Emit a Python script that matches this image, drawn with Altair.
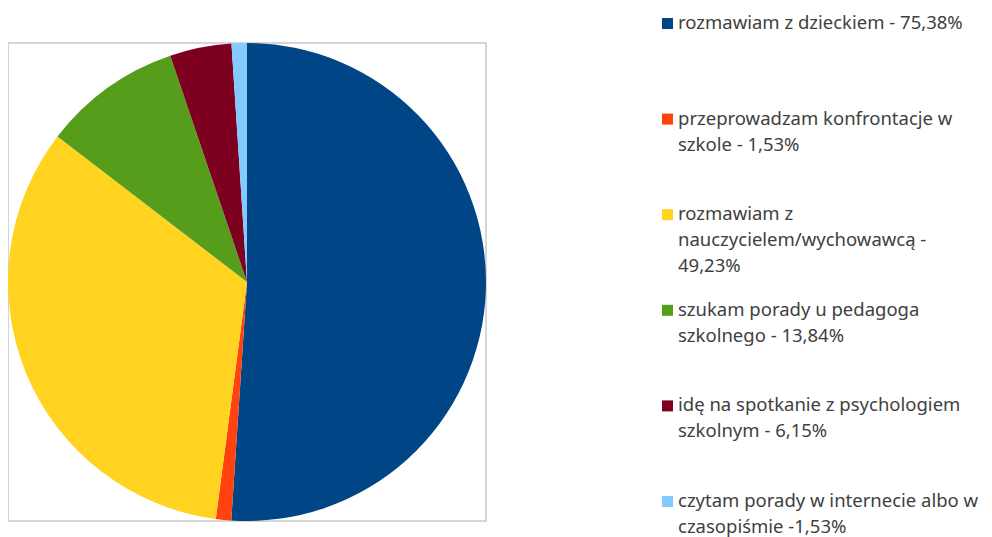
import altair as alt
import pandas as pd

categories = [
    "rozmawiam z dzieckiem",
    "przeprowadzam konfrontacje w szkole",
    "rozmawiam z nauczycielem/wychowawcą",
    "szukam porady u pedagoga szkolnego",
    "idę na spotkanie z psychologiem szkolnym",
    "czytam porady w internecie albo w czasopiśmie",
]
values = [75.38, 1.53, 49.23, 13.84, 6.15, 1.53]
legend_labels = [
    "rozmawiam z dzieckiem - 75,38%",
    "przeprowadzam konfrontacje w\nszkole - 1,53%",
    "rozmawiam z\nnauczycielem/wychowawcą -\n49,23%",
    "szukam porady u pedagoga\nszkolnego - 13,84%",
    "idę na spotkanie z psychologiem\nszkolnym - 6,15%",
    "czytam porady w internecie albo w\nczasopiśmie -1,53%",
]
colors = ["#004586", "#ff420e", "#ffd320", "#579d1c", "#7e0021", "#83caff"]

df = pd.DataFrame({
    "cat": categories,
    "val": values,
    "label": legend_labels,
    "idx": list(range(len(categories))),
})

color = alt.Color("cat:N", scale=alt.Scale(domain=categories, range=colors), legend=None)

base = alt.Chart(df)

pie = base.mark_arc(radius=239).encode(
    theta=alt.Theta("val:Q", stack=True),
    color=color,
    order=alt.Order("idx:Q", sort="ascending"),
)

yscale = alt.Scale(domain=[0, 5], range=[-14, 464])

squares = base.mark_square(size=121, yOffset=-5.5, opacity=1).encode(
    x=alt.value(659.5),
    y=alt.Y("idx:Q", scale=yscale, axis=None),
    color=color,
)

texts = base.mark_text(
    align="left", baseline="alphabetic", lineBreak="\n", lineHeight=26,
    font="Noto Sans", fontSize=18.5, color="#404040",
).encode(
    x=alt.value(670),
    y=alt.Y("idx:Q", scale=yscale, axis=None),
    text="label:N",
)

chart = alt.layer(pie, squares, texts).properties(
    width=478, height=478,
    padding={"left": 0, "top": 35, "right": 498, "bottom": 16},
    autosize=alt.AutoSizeParams(type="none"),
).configure_view(stroke="#c8c8c8", strokeWidth=1.5)

chart.save("out.html", embed_options={"renderer": "svg", "actions": False})
